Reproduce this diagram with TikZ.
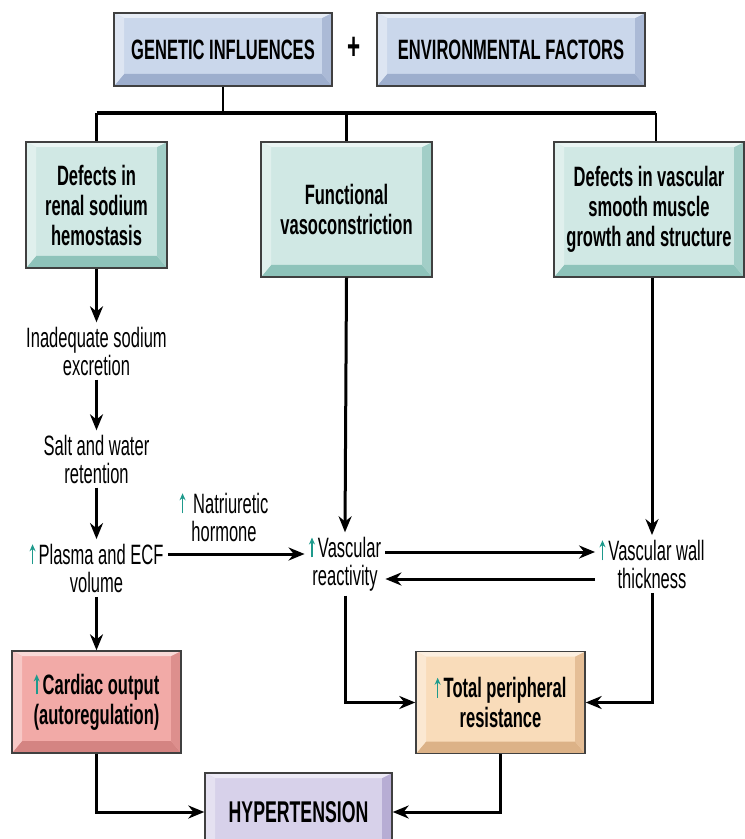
\documentclass[tikz,border=0pt]{standalone}
\usepackage{fontspec}
\setmainfont{Liberation Sans}[FakeStretch=0.59]
\usetikzlibrary{arrows.meta}

\definecolor{bluef}{HTML}{CAD7EB}
\definecolor{blued}{HTML}{9DAECD}
\definecolor{tealf}{HTML}{D0E8E4}
\definecolor{teald}{HTML}{8EC3BA}
\definecolor{pinkf}{HTML}{F2AAA7}
\definecolor{pinkd}{HTML}{D48482}
\definecolor{peachf}{HTML}{F9DCBA}
\definecolor{peachd}{HTML}{DCB287}
\definecolor{lilacf}{HTML}{D7D1EA}
\definecolor{lilacd}{HTML}{A99ECB}
\definecolor{upteal}{HTML}{1E9A8C}
\newcommand{\upar}{\tikz[baseline=0pt]\draw[upteal, line width=0.8pt, -{Stealth[length=3.5pt,width=3pt]}] (0,0) -- (0,10pt);\hspace{1.5pt}}

\begin{document}
\begin{tikzpicture}[x=0.5pt, y=-0.5pt,
    every node/.style={font=\fontsize{14}{14}\selectfont, align=center, inner sep=2pt},
    bevelbox/.style 2 args={fill=#1, draw=black!75, line width=0.7pt,
      font=\fontsize{14}{15}\selectfont\bfseries,
      path picture={
        \fill[#2] (path picture bounding box.south west) -- (path picture bounding box.south east)
          -- ([shift={(-5pt,6pt)}]path picture bounding box.south east) -- ([shift={(5pt,6pt)}]path picture bounding box.south west) -- cycle;
        \fill[#2!70!#1] (path picture bounding box.south east) -- (path picture bounding box.north east)
          -- ([shift={(-5pt,-2.5pt)}]path picture bounding box.north east) -- ([shift={(-5pt,6pt)}]path picture bounding box.south east) -- cycle;
        \fill[#1!45!white] (path picture bounding box.north west) -- (path picture bounding box.north east)
          -- ([shift={(-5pt,-2.5pt)}]path picture bounding box.north east) -- ([shift={(5pt,-2.5pt)}]path picture bounding box.north west) -- cycle;
        \fill[#1!65!white] (path picture bounding box.north west) -- (path picture bounding box.south west)
          -- ([shift={(5pt,6pt)}]path picture bounding box.south west) -- ([shift={(5pt,-2.5pt)}]path picture bounding box.north west) -- cycle;
      }},
    tree/.style={line width=1.2pt},
    arr/.style={line width=1.5pt, -{Stealth[length=8pt,width=6.5pt]}}]
        % \draw[help lines, gray!50, very thin] (0,0) grid[step=50] (744,839);
        \useasboundingbox (0,0) rectangle (744,839);

        \node[bevelbox={bluef}{blued}, minimum width=109pt, minimum height=36.5pt] (genetic) at (223,49.5) {GENETIC INFLUENCES};
        \node[font=\fontsize{19}{19}\selectfont\bfseries] (plus) at (354,48) {+};
        \node[bevelbox={bluef}{blued}, minimum width=134pt, minimum height=36.5pt] (environ) at (511,49.5) {ENVIRONMENTAL FACTORS};

        \node[bevelbox={tealf}{teald}, minimum width=70.5pt, minimum height=63pt] (renal) at (96.5,205) {Defects in\\renal sodium\\hemostasis};
        \node[bevelbox={tealf}{teald}, minimum width=85.5pt, minimum height=67.5pt] (func) at (346.5,209.5) {Functional\\vasoconstriction};
        \node[bevelbox={tealf}{teald}, minimum width=95pt, minimum height=67.5pt] (smooth) at (649,209.5) {Defects in vascular\\smooth muscle\\growth and structure};

        \coordinate (barL) at (96.5,113);
        \coordinate (barR) at (656,113);
        \draw[tree] (genetic.south) -- (genetic.south |- barL);
        \draw[tree, line width=1.6pt] (barL) -- (barR);
        \draw[tree] (barL) -- (renal.north);
        \draw[tree] (func.north |- barL) -- (func.north);
        \draw[tree] (barR) -- (barR |- smooth.north);

        \node (inadeq) at (96.5,351) {Inadequate sodium\\excretion};
        \node (salt) at (96.5,459) {Salt and water\\retention};
        \node (plasma) at (96.5,568) {\upar Plasma and ECF\\volume};
        \node (natri) at (224,517) {\upar\ Natriuretic\\hormone};
        \node (react) at (345,564) {\upar Vascular\\reactivity};
        \node (thick) at (652,564) {\upar Vascular wall\\thickness};

        \draw[arr] (renal.south) -- (inadeq.north);
        \draw[arr] (inadeq.south) -- (salt.north);
        \draw[arr] (salt.south) -- (plasma.north);
        \draw[arr] ([yshift=7pt]plasma.east) -- ([yshift=7pt]plasma.east -| react.west);
        \draw[arr] (func.south) -- (react.north);
        \draw[arr] (smooth.south -| thick.north) -- (thick.north);
        \draw[arr] ([yshift=6pt]react.east) -- ([yshift=6pt]react.east -| thick.west);
        \draw[arr] ([yshift=-7.5pt]thick.west) -- ([yshift=-7.5pt]thick.west -| react.east);

        \node[bevelbox={pinkf}{pinkd}, minimum width=84.5pt, minimum height=51pt] (cardiac) at (96.5,702) {\upar Cardiac output\\(autoregulation)};
        \node[bevelbox={peachf}{peachd}, minimum width=84.5pt, minimum height=51pt] (total) at (500.5,702.5) {\upar Total peripheral\\resistance};
        \node[bevelbox={lilacf}{lilacd}, minimum width=93.5pt, minimum height=39pt, font=\fontsize{15}{15}\selectfont\bfseries] (hyper) at (298.5,812) {HYPERTENSION};

        \draw[arr] (plasma.south) -- (cardiac.north);
        \draw[arr] (react.south) |- (total.west);
        \draw[arr] (thick.south) |- (total.east);
        \draw[arr] (cardiac.south) |- (hyper.west);
        \draw[arr] (total.south) |- (hyper.east);
\end{tikzpicture}
\end{document}
